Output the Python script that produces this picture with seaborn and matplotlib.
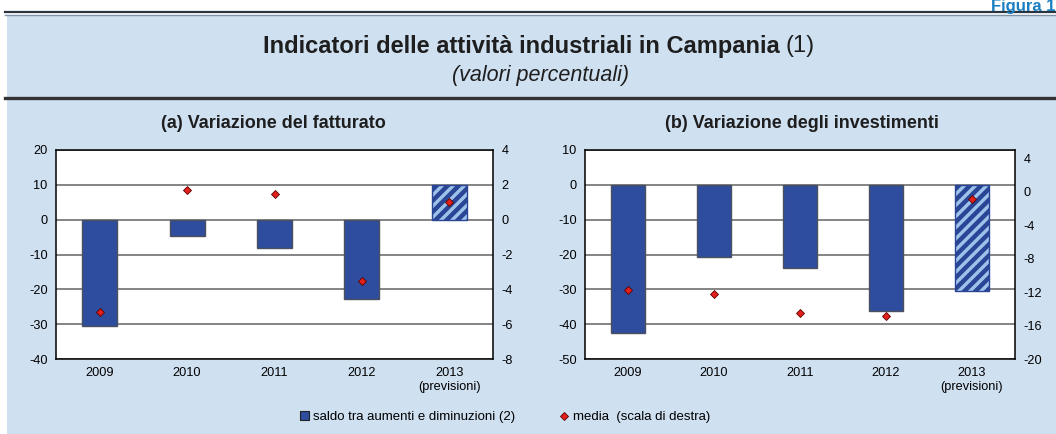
import matplotlib
matplotlib.use("Agg")
import matplotlib.pyplot as plt
import numpy as np
import pandas as pd
import seaborn as sns
from matplotlib.lines import Line2D
from matplotlib.patches import Patch, Rectangle

# --- data ---
YEARS = ["2009", "2010", "2011", "2012", "2013\n(previsioni)"]
FATTURATO_SALDO = [-30.5, -4.6, -8.2, -22.8, 9.9]
FATTURATO_MEDIA = [-5.3, 1.7, 1.5, -3.5, 1.0]
INVESTIMENTI_SALDO = [-42.5, -20.7, -23.8, -36.1, -30.5]
INVESTIMENTI_MEDIA = [-11.8, -12.2, -14.5, -14.9, -0.9]

FATT_LEFT_TICKS = [-40, -30, -20, -10, 0, 10, 20]
FATT_RIGHT_TICKS = [-8, -6, -4, -2, 0, 2, 4]
INV_LEFT_TICKS = [-50, -40, -30, -20, -10, 0, 10]
INV_RIGHT_TICKS = [-20, -16, -12, -8, -4, 0, 4]

BLUE = "#2e4d9e"
HATCH_BLUE = "#2a4596"
LIGHT_BLUE = "#9dc3ea"
RED = "#e3201b"
BG = "#cfe0f1"
EDGE = "#4a5060"
GRID = "#6f6f6f"

W, H = 1056, 434
TICK_FS = 9.2

plt.rcParams["font.family"] = ["Liberation Sans", "DejaVu Sans"]
plt.rcParams["axes.unicode_minus"] = False
plt.rcParams["hatch.linewidth"] = 3.2


def fx(px):
    return px / W


def fy(py):
    return 1 - py / H


def draw_panel(fig, rect, title, title_x, saldo, media, left_ticks, right_lim, right_ticks):
    ax = fig.add_axes(rect)
    df = pd.DataFrame({"anno": YEARS, "saldo": saldo, "media": media})
    sns.barplot(data=df, x="anno", y="saldo", ax=ax, color=BLUE, saturation=1,
                width=0.4, edgecolor=EDGE, linewidth=1, zorder=2)
    # last year is a forecast -> hatched light bar
    fc = ax.patches[-1]
    fc.set_facecolor(LIGHT_BLUE)
    fc.set_edgecolor(HATCH_BLUE)
    fc.set_hatch("///")
    if hasattr(fc, "set_hatch_linewidth"):
        fc.set_hatch_linewidth(3.2)

    ax.set_facecolor("white")
    ax.set_ylim(left_ticks[0], left_ticks[-1])
    ax.set_yticks(left_ticks)
    ax.yaxis.grid(True, color=GRID, linewidth=1.2)
    ax.xaxis.grid(False)
    ax.set_axisbelow(True)
    ax.set_xlabel("")
    ax.set_ylabel("")
    ax.tick_params(length=0, labelsize=TICK_FS, pad=6)
    for s in ax.spines.values():
        s.set_color("black")
        s.set_linewidth(1.1)

    ax2 = ax.twinx()
    sns.pointplot(data=df, x="anno", y="media", ax=ax2, color=RED, markers="D",
                  linestyles="none", errorbar=None, markersize=4.5,
                  markeredgecolor="#5a0000", markeredgewidth=0.6)
    ax2.set_ylim(*right_lim)
    ax2.set_yticks(right_ticks)
    ax2.set_ylabel("")
    ax2.set_xlabel("")
    ax2.grid(False)
    ax2.tick_params(length=0, labelsize=TICK_FS, pad=6)
    for s in ax2.spines.values():
        s.set_visible(False)
    ax.set_xlim(-0.5, len(YEARS) - 0.5)

    fig.text(fx(title_x), fy(123), title, ha="center", va="center",
             fontsize=13, fontweight="bold", color="#1e1e1e")
    return ax


def main():
    fig = plt.figure(figsize=(W / 100, H / 100), dpi=100, facecolor="white")

    # light blue box and rules
    fig.add_artist(Rectangle((fx(7), 0), 1 - fx(7), fy(16), transform=fig.transFigure,
                             facecolor=BG, edgecolor="none", zorder=-10))
    fig.add_artist(Line2D([fx(5), 1], [fy(12), fy(12)], color="#2a3440", lw=1.6,
                          transform=fig.transFigure))
    fig.add_artist(Line2D([fx(5), 1], [fy(14.5), fy(14.5)], color="#7f93a8", lw=1,
                          transform=fig.transFigure))
    fig.add_artist(Line2D([fx(5), 1], [fy(98), fy(98)], color="#333333", lw=2.4,
                          transform=fig.transFigure))

    fig.text(1.004, fy(10.5), "Figura 1.", ha="right", va="baseline", fontsize=12,
             fontweight="bold", color="#1a7fc1")

    # main title: bold part + normal "(1)", centred together
    t1 = fig.text(0, fy(46), "Indicatori delle attività industriali in Campania",
                  ha="left", va="center", fontsize=17, fontweight="bold", color="#1e1e1e")
    t2 = fig.text(0, fy(46), "(1)", ha="left", va="center", fontsize=17, color="#1e1e1e")
    fig.text(fx(540), fy(75), "(valori percentuali)", ha="center", va="center",
             fontsize=15.5, style="italic", color="#1e1e1e")

    draw_panel(fig, [fx(56), fy(359), fx(493) - fx(56), fy(150) - fy(359)],
               "(a) Variazione del fatturato", 273, FATTURATO_SALDO, FATTURATO_MEDIA,
               FATT_LEFT_TICKS, (-8, 4), FATT_RIGHT_TICKS)
    draw_panel(fig, [fx(585), fy(359), fx(1015) - fx(585), fy(150) - fy(359)],
               "(b) Variazione degli investimenti", 802, INVESTIMENTI_SALDO,
               INVESTIMENTI_MEDIA, INV_LEFT_TICKS, (-20, 5), INV_RIGHT_TICKS)

    fig.canvas.draw()
    r = fig.canvas.get_renderer()
    w1 = t1.get_window_extent(r).width
    w2 = t2.get_window_extent(r).width
    gap = 6
    start = 539 - (w1 + gap + w2) / 2
    t1.set_x(fx(start))
    t2.set_x(fx(start + w1 + gap))

    handles = [
        Patch(facecolor=BLUE, edgecolor="#222222", linewidth=0.8),
        Line2D([], [], marker="D", linestyle="none", color=RED, markersize=4.5,
               markeredgecolor="#5a0000", markeredgewidth=0.6),
    ]
    labels = ["saldo tra aumenti e diminuzioni (2)", "media  (scala di destra)"]
    fig.legend(handles, labels, loc="center", bbox_to_anchor=(fx(505), fy(417)),
               ncol=2, frameon=False, fontsize=9.5, handlelength=0.7, handleheight=0.7,
               handletextpad=0.3, columnspacing=3.4)

    fig.savefig("out.png", dpi=100, facecolor="white")
    plt.close(fig)


if __name__ == "__main__":
    main()
